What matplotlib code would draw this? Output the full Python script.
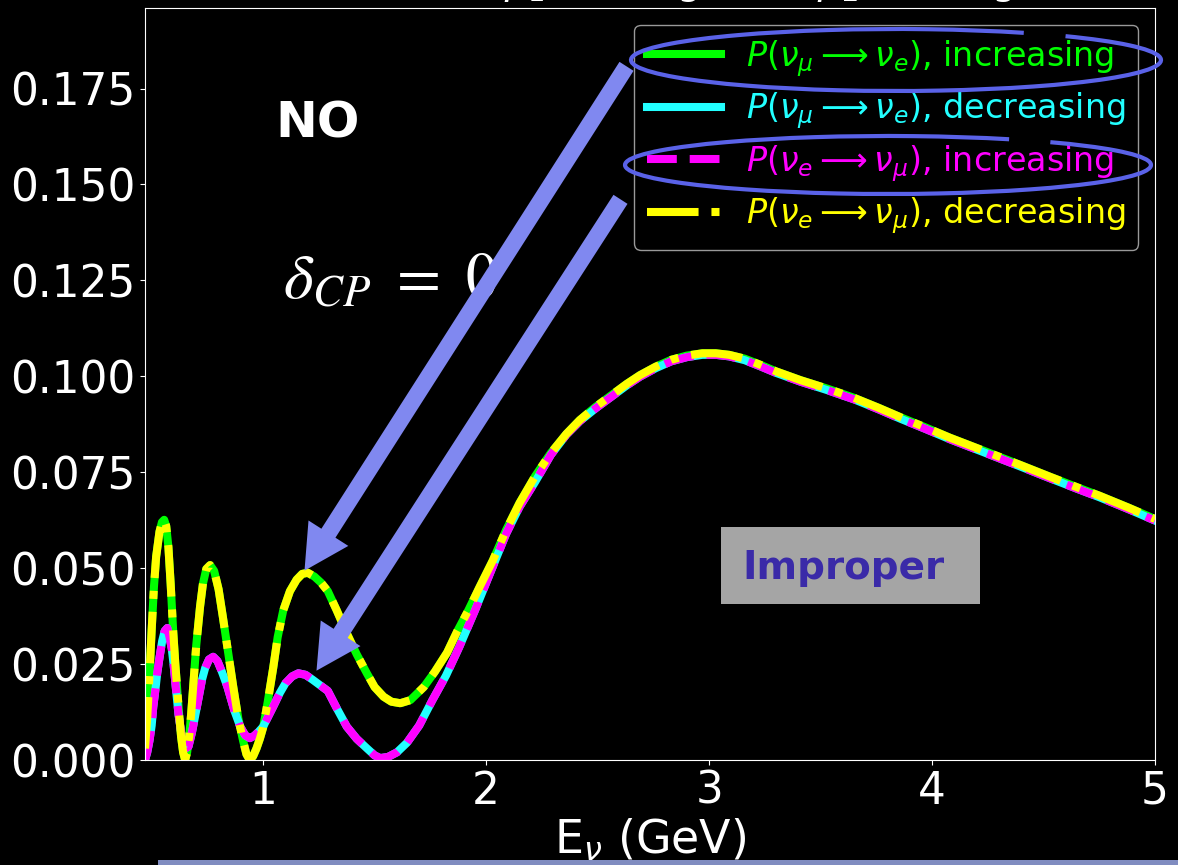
from matplotlib import pyplot as plt
from matplotlib.patches import Rectangle, Arc, FancyArrowPatch

W, H = 1178, 865

# oscillation probability, upper curve (green / yellow) and lower curve (cyan / magenta)
E_upper = [0.47, 0.48, 0.49, 0.50, 0.51, 0.52, 0.535, 0.546, 0.556, 0.565, 0.575, 0.585,
           0.596, 0.606, 0.615, 0.623, 0.632, 0.641, 0.65, 0.659, 0.668, 0.677, 0.686, 0.70,
           0.717, 0.73, 0.745, 0.762, 0.78, 0.80, 0.82, 0.843, 0.866, 0.888, 0.91, 0.925,
           0.94, 0.955, 0.97, 0.985, 1.0, 1.02, 1.045, 1.065, 1.09, 1.12, 1.15, 1.175, 1.2,
           1.23, 1.26, 1.29, 1.33, 1.375, 1.42, 1.466, 1.5, 1.54, 1.575, 1.615, 1.66, 1.72,
           1.77, 1.825, 1.87, 1.92, 1.97, 2.03, 2.09, 2.15, 2.22, 2.29, 2.36, 2.42, 2.49,
           2.56, 2.63, 2.69, 2.76, 2.83, 2.9, 2.97, 3.03, 3.09, 3.16, 3.23, 3.3, 3.41, 3.53,
           3.65, 3.76, 3.86, 3.97, 4.08, 4.25, 4.4, 4.53, 4.65, 4.75, 4.88, 5.0]
P_upper = [0.003, 0.011, 0.022, 0.034, 0.045, 0.053, 0.0595, 0.062, 0.0626, 0.061, 0.0555,
           0.046, 0.034, 0.025, 0.018, 0.012, 0.006, 0.002, 0.0, 0.002, 0.006, 0.012, 0.019,
           0.030, 0.040, 0.046, 0.0498, 0.0508, 0.0493, 0.0445, 0.037, 0.028, 0.019, 0.011,
           0.005, 0.0015, 0.0, 0.001, 0.003, 0.0055, 0.0085, 0.015, 0.024, 0.032, 0.039, 0.044,
           0.047, 0.0485, 0.0488, 0.0478, 0.0462, 0.044, 0.039, 0.033, 0.0275, 0.0225, 0.019,
           0.0165, 0.0152, 0.0148, 0.0156, 0.019, 0.023, 0.028, 0.0335, 0.039, 0.045, 0.052,
           0.060, 0.067, 0.074, 0.080, 0.085, 0.0886, 0.092, 0.095, 0.098, 0.1003, 0.1025,
           0.1043, 0.1054, 0.1060, 0.1060, 0.1056, 0.1046, 0.1030, 0.1013, 0.0990, 0.0968,
           0.0944, 0.0918, 0.0893, 0.0867, 0.0840, 0.0802, 0.0768, 0.0738, 0.0711, 0.0689,
           0.0658, 0.0628]

E_lower = [0.47, 0.48, 0.49, 0.50, 0.507, 0.516, 0.525, 0.536, 0.547, 0.558, 0.57, 0.58,
           0.59, 0.598, 0.608, 0.62, 0.635, 0.65, 0.665, 0.68, 0.70, 0.713, 0.726, 0.74,
           0.757, 0.776, 0.795, 0.815, 0.84, 0.87, 0.897, 0.92, 0.94, 0.96, 0.98, 1.0, 1.045,
           1.075, 1.1, 1.13, 1.158, 1.19, 1.22, 1.255, 1.29, 1.33, 1.375, 1.42, 1.466, 1.5,
           1.525, 1.56, 1.6, 1.645, 1.70, 1.76, 1.82, 1.88, 1.95, 2.02, 2.09, 2.15, 2.22,
           2.29, 2.36, 2.42, 2.49, 2.56, 2.63, 2.69, 2.76, 2.83, 2.9, 2.97, 3.03, 3.09, 3.16,
           3.23, 3.3, 3.41, 3.53, 3.65, 3.76, 3.86, 3.97, 4.08, 4.25, 4.4, 4.53, 4.65, 4.75,
           4.88, 5.0]
P_lower = [0.0, 0.002, 0.005, 0.009, 0.0138, 0.018, 0.0227, 0.027, 0.031, 0.0336, 0.0344,
           0.032, 0.029, 0.025, 0.019, 0.012, 0.006, 0.003, 0.0035, 0.007, 0.013, 0.017, 0.021,
           0.024, 0.0262, 0.0269, 0.0258, 0.023, 0.019, 0.013, 0.0087, 0.0064, 0.0057, 0.0063,
           0.0074, 0.0087, 0.0139, 0.0175, 0.020, 0.0218, 0.0226, 0.0222, 0.021, 0.0195, 0.018,
           0.0135, 0.0087, 0.0055, 0.003, 0.0012, 0.0005, 0.0008, 0.002, 0.0045, 0.009, 0.0157,
           0.022, 0.0295, 0.039, 0.049, 0.059, 0.066, 0.0725, 0.0795, 0.0848, 0.0883, 0.0916,
           0.0946, 0.0976, 0.0999, 0.1021, 0.1039, 0.1050, 0.1056, 0.1056, 0.1052, 0.1042,
           0.1026, 0.1009, 0.0986, 0.0964, 0.0940, 0.0914, 0.0889, 0.0863, 0.0836, 0.0798,
           0.0764, 0.0734, 0.0707, 0.0685, 0.0654, 0.0624]

labels = [r"$P(\nu_\mu \longrightarrow \nu_e)$, increasing",
          r"$P(\nu_\mu \longrightarrow \nu_e)$, decreasing",
          r"$P(\nu_e \longrightarrow \nu_\mu)$, increasing",
          r"$P(\nu_e \longrightarrow \nu_\mu)$, decreasing"]


def fx(px):
    return px / W


def fy(py):
    return 1 - py / H


fig = plt.figure(figsize=(W / 100, H / 100), dpi=100, facecolor="black")
ax = fig.add_axes([fx(145), fy(760), fx(1155) - fx(145), fy(8) - fy(760)])
ax.set_facecolor("black")

lw = 5.8
ax.plot(E_upper, P_upper, color="#00ff00", lw=lw, label=labels[0])
ax.plot(E_lower, P_lower, color="#22ffff", lw=lw, label=labels[1])
ax.plot(E_lower, P_lower, color="#ff00ff", lw=lw, ls="--", label=labels[2])
ax.plot(E_upper, P_upper, color="#ffff00", lw=lw, ls="-.", label=labels[3])

ax.set_xlim(0.47, 5)
ax.set_ylim(0, 0.196)
ax.set_xticks([1, 2, 3, 4, 5])
ax.set_yticks([0, 0.025, 0.05, 0.075, 0.1, 0.125, 0.15, 0.175])
ax.tick_params(colors="white", labelsize=31.5)
for s in ax.spines.values():
    s.set_color("white")
ax.set_xlabel(r"E$_\nu$ (GeV)", color="white", fontsize=33, labelpad=3)

leg = ax.legend(loc="upper right", fontsize=24, labelcolor="linecolor", facecolor="black",
                edgecolor="#999999", framealpha=1, labelspacing=0.35, handlelength=2.2,
                handletextpad=0.75)

# partly visible title above the frame
fig.text(fx(500), fy(-5), r"$L$ = 1300 km,", color="white", fontsize=28,
         va="baseline", ha="right")
fig.text(fx(503), fy(-5), r"$\rho_1$ = 2.8 g/cm$^3$, $\rho_2$ = 3.3 g,", color="white",
         fontsize=28, va="baseline")

# text annotations
ax.text(1.054, 0.166, "NO", color="white", fontsize=36, fontweight="bold", va="center")
ax.text(1.09, 0.125, r"$\delta_{CP}\ =\ 0$", color="white", fontsize=46,
        math_fontfamily="stix", va="center")

# arrows
for (x0, y0), (x1, y1) in [((628, 64), (303, 573)), ((622, 197), (315, 673))]:
    fig.patches.append(FancyArrowPatch(
        (fx(x0), fy(y0)), (fx(x1), fy(y1)), transform=fig.transFigure,
        arrowstyle="simple,head_length=3.2,head_width=3.4,tail_width=1.2",
        mutation_scale=10, color="#8088f0", lw=0, zorder=5))

# hand drawn loops round two legend entries (drawn in inches, so angles are true)
for cx, cy, w, h in [(896, 60, 530, 62), (888, 165, 526, 58)]:
    fig.patches.append(Arc((cx / 100, (H - cy) / 100), w / 100, h / 100,
                           theta1=12, theta2=368, transform=fig.dpi_scale_trans,
                           color="#5a62e8", lw=3, zorder=6))

# "Improper" tag
fig.patches.append(Rectangle((fx(721), fy(604)), fx(259), 77 / H, transform=fig.transFigure,
                             facecolor="#a5a5a5", edgecolor="none", zorder=5))
fig.text(fx(742), fy(568), "Improper", color="#3a2aa8", fontsize=28, fontweight="bold",
         va="center", zorder=6)

# bar at the bottom
fig.patches.append(Rectangle((fx(158), 0), 1, 5 / H, transform=fig.transFigure,
                             facecolor="#808cc0", edgecolor="none", zorder=5))

plt.savefig("out.png", dpi=100, facecolor="black")
